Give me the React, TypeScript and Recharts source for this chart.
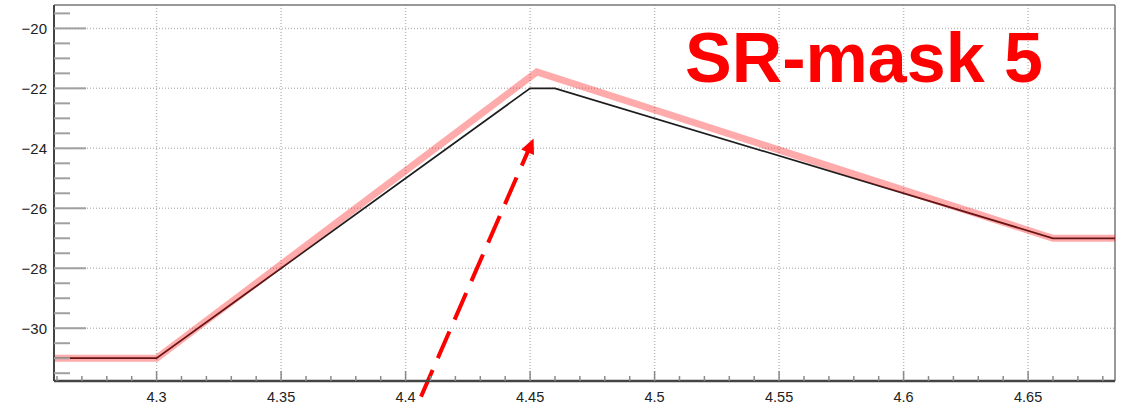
import React from "react";
import { LineChart, Line, XAxis, YAxis, ReferenceLine } from "recharts";

// Axis ranges
const xRange = [4.2588, 4.6849];
const yRange = [-31.76, -19.22];

// Reference profile (thin dark line)
const refX = [4.2588, 4.3, 4.45, 4.46, 4.66, 4.6849];
const refY = [-31, -31, -22, -22, -27, -27];

// Masked profile (wide translucent red band)
const maskX = [4.2588, 4.3, 4.4527, 4.66, 4.6849];
const maskY = [-31, -31, -21.45, -27, -27];

// Tick labels
const xMajor = [4.3, 4.35, 4.4, 4.45, 4.5, 4.55, 4.6, 4.65];
const yMajor = [-30, -28, -26, -24, -22, -20];

// Annotation arrow (data coordinates, tail -> head)
const arrowX = [4.4062, 4.4514];
const arrowY = [-32.28, -23.67];

const title = "SR-mask 5";

const refData = refX.map((x, i) => ({ x, y: refY[i] }));
const maskData = maskX.map((x, i) => ({ x, y: maskY[i] }));

// minor ticks every 0.01 on x and 0.5 on y
const xTicks: number[] = [];
for (let k = 426; k <= 468; k++) xTicks.push(k / 100);
const yTicks: number[] = [];
for (let k = -63; k <= -39; k++) yTicks.push(k / 2);

const isMajorX = (v: number) => Math.abs(v * 20 - Math.round(v * 20)) < 1e-6;
const isMajorY = (v: number) => Math.abs(v / 2 - Math.round(v / 2)) < 1e-6;

const FONT = "'Liberation Sans', Arial, Helvetica, sans-serif";

const XTick = (props: any) => {
  const { x, y, payload } = props;
  const v = payload.value as number;
  const major = isMajorX(v);
  return (
    <g>
      <line x1={x} x2={x} y1={y} y2={y - (major ? 10 : 5)} stroke="#8a8a8a" strokeWidth={1.5} />
      {major && (
        <text x={x} y={y + 21} textAnchor="middle" fontSize={14.5} fill="#222" fontFamily={FONT}>
          {String(+v.toFixed(2))}
        </text>
      )}
    </g>
  );
};

const YTick = (props: any) => {
  const { x, y, payload } = props;
  const v = payload.value as number;
  const major = isMajorY(v);
  return (
    <g>
      <line x1={x} x2={x + (major ? 32 : 16)} y1={y} y2={y} stroke="#a0a0a0" strokeWidth={2} />
      {major && (
        <text x={x - 7} y={y + 5.3} textAnchor="end" fontSize={15} fill="#222" fontFamily={FONT}>
          {(v < 0 ? "\u2212" : "") + Math.abs(v)}
        </text>
      )}
    </g>
  );
};

const Arrow = (p: any) => {
  const { x1, y1, x2, y2 } = p;
  const dx = x2 - x1;
  const dy = y2 - y1;
  const L = Math.hypot(dx, dy);
  const ux = dx / L;
  const uy = dy / L;
  const head = 15;
  const hw = 7;
  const bx = x2 - ux * head;
  const by = y2 - uy * head;
  return (
    <g>
      <line x1={x1} y1={y1} x2={bx + ux * 2} y2={by + uy * 2} stroke="#ff0000" strokeWidth={4} strokeDasharray="29 13" />
      <polygon points={`${x2},${y2} ${bx - uy * hw},${by + ux * hw} ${bx + uy * hw},${by - ux * hw}`} fill="#ff0000" />
    </g>
  );
};

export default function App() {
  return (
    <div style={{ position: "absolute", left: 0, top: 0, width: 1127, height: 408, background: "#fff" }}>
      <LineChart width={1127} height={408} margin={{ top: 5, right: 12, bottom: 0, left: 0 }}>
        <XAxis
          type="number"
          dataKey="x"
          domain={xRange}
          allowDataOverflow
          ticks={xTicks}
          interval={0}
          tick={<XTick />}
          tickLine={false}
          tickSize={0}
          tickMargin={0}
          height={27}
          axisLine={{ stroke: "#444", strokeWidth: 2.5 }}
        />
        <YAxis
          type="number"
          dataKey="y"
          domain={yRange}
          allowDataOverflow
          ticks={yTicks}
          interval={0}
          tick={<YTick />}
          tickLine={false}
          tickSize={0}
          tickMargin={0}
          width={54}
          axisLine={{ stroke: "#444", strokeWidth: 2 }}
        />
        {yMajor.map((v) => (
          <ReferenceLine key={"gy" + v} y={v} stroke="#bdbdbd" strokeWidth={1.5} strokeDasharray="1 2" />
        ))}
        {xMajor.map((v) => (
          <ReferenceLine key={"gx" + v} x={v} stroke="#bdbdbd" strokeWidth={1.5} strokeDasharray="1 2" />
        ))}
        <ReferenceLine y={yRange[1]} stroke="#777" strokeWidth={1.5} ifOverflow="visible" />
        <ReferenceLine x={xRange[1]} stroke="#777" strokeWidth={1.5} ifOverflow="visible" />
        <Line
          data={refData}
          dataKey="y"
          type="linear"
          stroke="#1e1e1e"
          strokeWidth={1.7}
          dot={false}
          activeDot={false}
          isAnimationActive={false}
        />
        <Line
          data={maskData}
          dataKey="y"
          type="linear"
          stroke="#ff0000"
          strokeOpacity={0.33}
          strokeWidth={7}
          strokeLinejoin="miter"
          dot={false}
          activeDot={false}
          isAnimationActive={false}
        />
        <ReferenceLine
          segment={[
            { x: arrowX[0], y: arrowY[0] },
            { x: arrowX[1], y: arrowY[1] },
          ]}
          ifOverflow="visible"
          shape={<Arrow />}
        />
      </LineChart>
      <svg width={1127} height={408} style={{ position: "absolute", left: 0, top: 0, pointerEvents: "none" }}>
        <text x={685} y={82} fontSize={70} fontWeight="bold" fill="#ff0000" fontFamily={FONT}>
          {title}
        </text>
      </svg>
    </div>
  );
}
